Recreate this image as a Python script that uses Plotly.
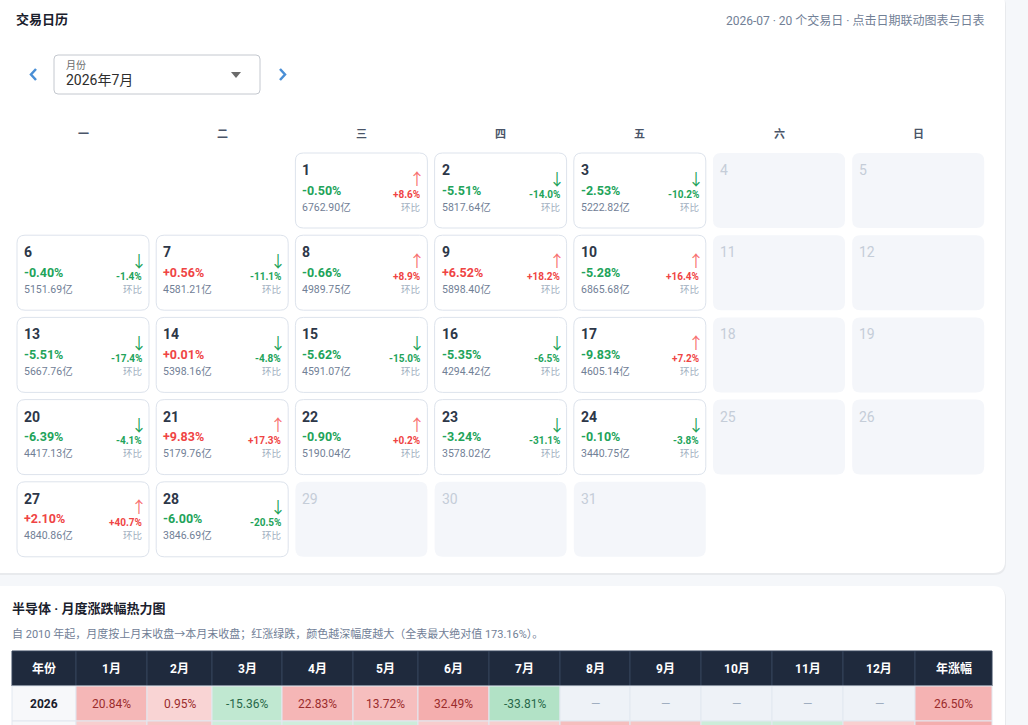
import datetime
import plotly.graph_objects as go

FONT = "Roboto, 'Noto Sans CJK SC', sans-serif"

# calendar data (2026-07)
cal_year, cal_month, days_in_month = 2026, 7, 31
weekday_labels = ["一", "二", "三", "四", "五", "六", "日"]
trade_days = [1, 2, 3, 6, 7, 8, 9, 10, 13, 14, 15, 16, 17, 20, 21, 22, 23, 24, 27, 28]
day_chg = [-0.50, -5.51, -2.53, -0.40, 0.56, -0.66, 6.52, -5.28, -5.51, 0.01,
           -5.62, -5.35, -9.83, -6.39, 9.83, -0.90, -3.24, -0.10, 2.10, -6.00]
day_amt = [6762.90, 5817.64, 5222.82, 5151.69, 4581.21, 4989.75, 5898.40, 6865.68, 5667.76, 5398.16,
           4591.07, 4294.42, 4605.14, 4417.13, 5179.76, 5190.04, 3578.02, 3440.75, 4840.86, 3846.69]
day_mom = [8.6, -14.0, -10.2, -1.4, -11.1, 8.9, 18.2, 16.4, -17.4, -4.8,
           -15.0, -6.5, 7.2, -4.1, 17.3, 0.2, -31.1, -3.8, 40.7, -20.5]

# heatmap data
heat_header = ["年份", "1月", "2月", "3月", "4月", "5月", "6月", "7月", "8月", "9月", "10月", "11月", "12月", "年涨幅"]
heat_years = [2026, 2025]
heat_2026 = [20.84, 0.95, -15.36, 22.83, 13.72, 32.49, -33.81, None, None, None, None, None]
heat_2025 = [3.2, 8.5, -4.6, -3.8, -5.1, 4.0, 3.5, 15.2, 9.1, -5.6, -4.9, 2.8]
year_chg = [26.50, 34.60]
max_abs = 173.16

RED, GREEN = "#ef4444", "#22a35a"

shapes, ann = [], []


def rrect(x0, y0, x1, y1, r):
    return (f"M{x0+r},{y0} L{x1-r},{y0} Q{x1},{y0} {x1},{y0+r} L{x1},{y1-r} Q{x1},{y1} {x1-r},{y1} "
            f"L{x0+r},{y1} Q{x0},{y1} {x0},{y1-r} L{x0},{y0+r} Q{x0},{y0} {x0+r},{y0} Z")


def box(x0, y0, x1, y1, r, fill, line=None, lw=1):
    shapes.append(dict(type="path", path=rrect(x0, y0, x1, y1, r), xref="x", yref="y",
                       fillcolor=fill, line=dict(color=line or "rgba(0,0,0,0)", width=lw if line else 0),
                       layer="below"))


def text(x, y, s, size, color, anchor="left", bold=False):
    ann.append(dict(x=x, y=y, xref="x", yref="y", text=f"<b>{s}</b>" if bold else s, showarrow=False,
                    xanchor=anchor, yanchor="middle", font=dict(size=size, color=color, family=FONT)))


# cards
box(-12, -6, 1006, 575, 12, "rgba(0,0,0,0.05)")
box(-12, -8, 1005, 573, 12, "#ffffff")
box(-12, 587, 1006, 760, 12, "rgba(0,0,0,0.05)")
box(-12, 586, 1005, 760, 12, "#ffffff")

# header of calendar card
text(14, 19, "交易日历", 13, "#1a202c", bold=True)
text(986, 20, "2026-07 · 20 个交易日 · 点击日期联动图表与日表", 12, "#718096", anchor="right")

# month selector
box(54, 55, 260, 94, 4, "#ffffff", "#c4c8cf")
text(64, 65, "月份", 10, "#6b6b6b")
text(64, 80, f"{cal_year}年{cal_month}月", 14, "#2d2d2d")
shapes.append(dict(type="path", path="M231,72 L241,72 L236,78 Z", xref="x", yref="y",
                   fillcolor="#6b6b6b", line=dict(width=0)))
shapes.append(dict(type="path", path="M36,69 L31,74.5 L36,80", xref="x", yref="y",
                   line=dict(color="#4a8fd6", width=2.5)))
shapes.append(dict(type="path", path="M280,69 L285,74.5 L280,80", xref="x", yref="y",
                   line=dict(color="#4a8fd6", width=2.5)))

# calendar grid
gx0, gy0, pitch_x, pitch_y, cw, ch = 17, 153, 139.2, 82.2, 132, 75
for i, lab in enumerate(weekday_labels):
    text(gx0 + i * pitch_x + cw / 2, 134, lab, 11, "#4a5568", anchor="center", bold=True)

first_wd = datetime.date(cal_year, cal_month, 1).weekday()
for d in range(1, days_in_month + 1):
    idx = first_wd + d - 1
    col, row = idx % 7, idx // 7
    x0 = gx0 + col * pitch_x
    y0 = gy0 + row * pitch_y
    x1, y1 = x0 + cw, y0 + ch
    if d in trade_days:
        k = trade_days.index(d)
        box(x0, y0, x1, y1, 8, "#ffffff", "#dde3ec")
        text(x0 + 5, y0 + 17, str(d), 14, "#2d3748", bold=True)
        c = day_chg[k]
        text(x0 + 5, y0 + 37, f"{c:+.2f}%", 12.5, RED if c > 0 else GREEN, bold=True)
        text(x0 + 5, y0 + 54, f"{day_amt[k]:.2f}亿", 10.5, "#718096")
        m = day_mom[k]
        mc = RED if m > 0 else GREEN
        text(x1 - 10, y0 + 26, "↑" if m > 0 else "↓", 16, "#f87171" if m > 0 else GREEN, anchor="center")
        text(x1 - 5, y0 + 41, f"{m:+.1f}%", 10, mc, anchor="right", bold=True)
        text(x1 - 5, y0 + 54, "环比", 9.5, "#a0aec0", anchor="right")
    else:
        box(x0, y0, x1, y1, 8, "#f4f6fa")
        text(x0 + 5, y0 + 17, str(d), 14, "#c5cdd8")

# heatmap card
text(10, 608, "半导体 · 月度涨跌幅热力图", 13, "#1a202c", bold=True)
text(10, 634, "自 2010 年起，月度按上月末收盘→本月末收盘；红涨绿跌，颜色越深幅度越大（全表最大绝对值 173.16%）。",
     11, "#718096")


def heat_color(v):
    if v is None:
        return "#eef2f7"
    t = 0.18 + 0.55 * (abs(v) / max_abs) ** 0.5
    base = (229, 62, 62) if v > 0 else (72, 187, 120)
    return "rgb(%d,%d,%d)" % tuple(round(255 - t * (255 - cc)) for cc in base)


col_edges = [12, 76, 147, 212, 282, 353, 418, 489, 560, 630, 701, 772, 843, 915, 992]
hy0, hh, rh = 651, 35, 35
for j, lab in enumerate(heat_header):
    shapes.append(dict(type="rect", x0=col_edges[j], x1=col_edges[j + 1], y0=hy0, y1=hy0 + hh,
                       xref="x", yref="y", fillcolor="#1f2a3d", line=dict(color="#34425a", width=1)))
    text((col_edges[j] + col_edges[j + 1]) / 2, hy0 + hh / 2, lab, 12, "#ffffff", anchor="center", bold=True)

for r, (yr, vals) in enumerate(zip(heat_years, [heat_2026, heat_2025])):
    ry0 = hy0 + hh + r * rh
    cells = [None] + vals + [year_chg[r]]
    for j in range(len(heat_header)):
        if j == 0:
            fill, label, fc, b = "#f7f8fa", str(yr), "#1a202c", True
        else:
            v = cells[j]
            fill = heat_color(v)
            if v is None:
                label, fc = "—", "#a0aec0"
            else:
                label, fc = f"{v:.2f}%", "#9b2c2c" if v > 0 else "#276749"
            b = False
        shapes.append(dict(type="rect", x0=col_edges[j], x1=col_edges[j + 1], y0=ry0, y1=ry0 + rh,
                           xref="x", yref="y", fillcolor=fill, line=dict(color="#e2e8f0", width=1)))
        text((col_edges[j] + col_edges[j + 1]) / 2, ry0 + rh / 2, label, 12, fc, anchor="center", bold=b)

fig = go.Figure(go.Scatter(x=[0], y=[0], mode="markers", marker=dict(opacity=0), hoverinfo="skip"))
fig.update_layout(
    width=1028, height=725, margin=dict(l=0, r=0, t=0, b=0),
    paper_bgcolor="#f5f7fa", plot_bgcolor="#f5f7fa", showlegend=False,
    xaxis=dict(range=[0, 1028], visible=False, fixedrange=True),
    yaxis=dict(range=[725, 0], visible=False, fixedrange=True),
    shapes=shapes, annotations=ann, font=dict(family=FONT),
)
# page body margin off so the figure sits at the window corner
fig.write_html("out.html", config={"displayModeBar": False},
               post_script="document.body.style.margin='0';document.body.style.overflow='hidden';")
